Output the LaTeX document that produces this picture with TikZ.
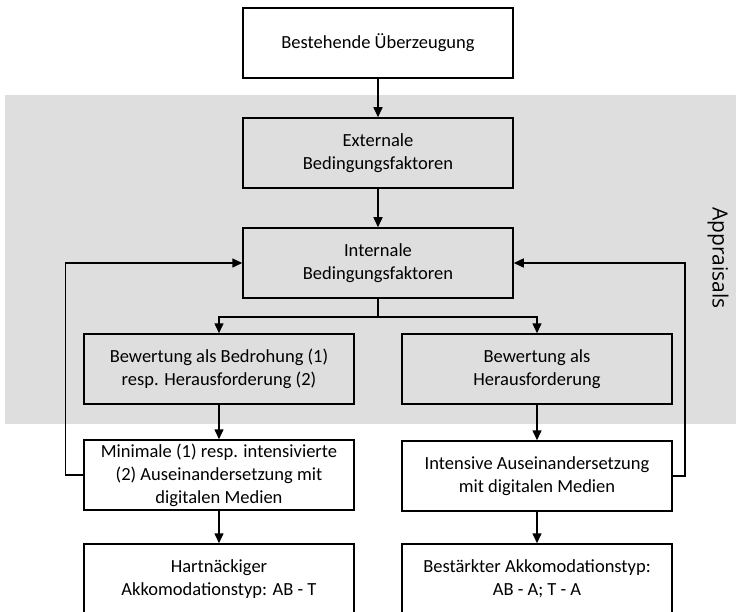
\documentclass[tikz,border=0pt]{standalone}
\usepackage{fontspec}
\setmainfont{Carlito}
\newfontfamily\appfont{Open Sans}
\usetikzlibrary{arrows.meta}
\definecolor{bandgray}{HTML}{DEDEDE}
\begin{document}
\begin{tikzpicture}[x=1pt,y=-1pt,
  box/.style={draw, line width=1.5pt, minimum width=270pt, minimum height=70pt,
    align=center, inner sep=0pt, font=\fontsize{18.5}{23}\selectfont},
  arr/.style={-{Triangle[length=10pt,width=9pt]}, line width=1.5pt},
  conn/.style={line width=1.5pt}]
\useasboundingbox (0,0) rectangle (736,612);
\fill[bandgray] (5,95) rectangle (736,424);
\node[box, fill=white] (b1) at (378,43) {Bestehende Überzeugung};
\node[box] (b2) at (378,153) {Externale\\Bedingungsfaktoren};
\node[box] (b3) at (378,263) {Internale\\Bedingungsfaktoren};
\node[box] (b4) at (219,369) {Bewertung als Bedrohung (1)\\resp. Herausforderung (2)};
\node[box] (b5) at (537,369) {Bewertung als\\Herausforderung};
\node[box, fill=white] (b6) at (219,475) {Minimale (1) resp. intensivierte\\(2) Auseinandersetzung mit\\digitalen Medien};
\node[box, fill=white] (b7) at (537,476) {Intensive Auseinandersetzung\\mit digitalen Medien};
\node[box, fill=white] (b8) at (219,579) {Hartnäckiger\\Akkomodationstyp: AB - T};
\node[box, fill=white] (b9) at (537,579) {Bestärkter Akkomodationstyp:\\AB - A; T - A};
\node[rotate=-90, font=\appfont\fontsize{21}{25}\selectfont] (app) at (718,258) {Appraisals};
\draw[arr] (b1) -- (b2);
\draw[arr] (b2) -- (b3);
\draw[conn] (b3.south) -- ++(0,18) coordinate (split);
\draw[arr] (split) -| (b4.north);
\draw[arr] (split) -| (b5.north);
\draw[arr] (b4) -- (b6);
\draw[arr] (b5) -- (b7);
\draw[arr] (b6) -- (b8);
\draw[arr] (b7) -- (b9);
\draw[arr] (b6.west) -- ++(-18,0) |- (b3.west);
\draw[arr] (b7.east) -- ++(12,0) |- (b3.east);
\end{tikzpicture}
\end{document}
